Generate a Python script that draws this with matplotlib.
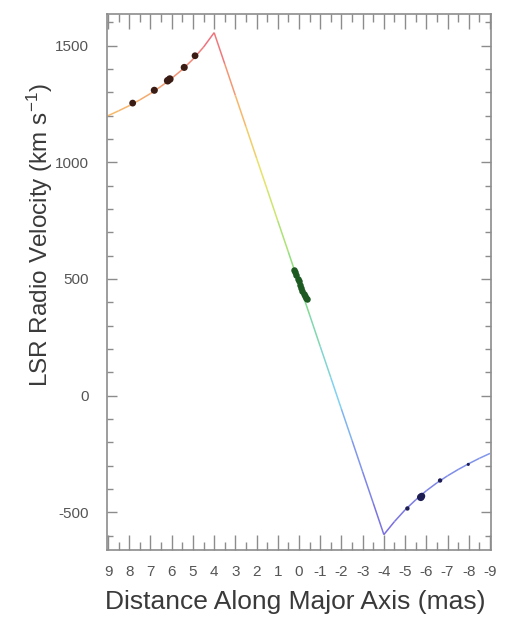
import numpy as np
import matplotlib
matplotlib.use("Agg")
import matplotlib.pyplot as plt
from matplotlib.collections import LineCollection
from matplotlib.colors import LinearSegmentedColormap, Normalize
from matplotlib import font_manager

# ---- data ----
curve_x = [9.0, 8.5, 8.0, 7.5, 7.0, 6.5, 6.0, 5.5, 5.0, 4.5, 4.0,
           3.5, 3.0, 2.5, 2.0, 1.5, 1.0, 0.5, 0.0, -0.5, -1.0, -1.5, -2.0, -2.5, -3.0, -3.5, -4.0,
           -4.5, -5.0, -5.5, -6.0, -6.5, -7.0, -7.5, -8.0, -8.5, -9.0]
curve_v = [1200, 1221, 1243, 1268, 1295, 1326, 1360, 1398, 1442, 1494, 1556,
           1422, 1287, 1153, 1018, 884, 749, 615, 480, 346, 211, 77, -58, -192, -327, -461, -596,
           -540, -490, -447, -408, -374, -344, -317, -292, -269, -248]

red_x = [7.84, 6.82, 6.19, 6.09, 5.41, 4.90]
red_v = [1254, 1309, 1350, 1357, 1407, 1457]

core_x = [0.22, 0.17, 0.12, 0.07, 0.02, -0.04, -0.10, -0.16, -0.22, -0.28, -0.34, -0.38]
core_v = [540, 528, 515, 502, 490, 475, 462, 449, 437, 426, 418, 412]

blue_x = [-5.11, -5.74, -5.79, -6.65, -7.98]
blue_v = [-484, -436, -431, -364, -295]

x_ticks = list(range(9, -10, -1))
y_ticks = [-500, 0, 500, 1000, 1500]

# ---- fonts ----
names = {f.name for f in font_manager.fontManager.ttflist}
tick_font = "Liberation Sans Narrow" if "Liberation Sans Narrow" in names else "Liberation Sans"
plt.rcParams["font.family"] = ["Liberation Sans", "DejaVu Sans"]
plt.rcParams["mathtext.fontset"] = "custom"
plt.rcParams["mathtext.rm"] = "Liberation Sans"
plt.rcParams["mathtext.it"] = "Liberation Sans"

fig = plt.figure(figsize=(5.13, 6.21), dpi=100)
ax = fig.add_axes([107 / 513, 1 - 550 / 621, 384 / 513, 536 / 621])

cmap = LinearSegmentedColormap.from_list(
    "vel",
    [(0.00, (0.42, 0.36, 0.86)),
     (0.16, (0.45, 0.55, 0.92)),
     (0.28, (0.45, 0.80, 0.95)),
     (0.50, (0.45, 0.85, 0.45)),
     (0.70, (0.88, 0.90, 0.35)),
     (0.83, (0.97, 0.72, 0.35)),
     (1.00, (0.92, 0.35, 0.45))])
norm = Normalize(vmin=-600, vmax=1560)

cx = np.array(curve_x, float)
cv = np.array(curve_v, float)
pts = np.column_stack([cx, cv]).reshape(-1, 1, 2)
segs = np.concatenate([pts[:-1], pts[1:]], axis=1)
mid_v = 0.5 * (cv[:-1] + cv[1:])
lc = LineCollection(segs, colors=cmap(norm(mid_v)), linewidths=1.1, alpha=0.9)
ax.add_collection(lc)

ax.scatter(red_x, red_v, s=[24, 26, 30, 30, 26, 24], color="#3a1c14", zorder=3, linewidths=0)
ax.scatter(core_x, core_v, s=22, color="#1d5a22", zorder=3, linewidths=0)
ax.scatter(blue_x, blue_v, s=[10, 30, 24, 10, 5], color="#1e1e55", zorder=3, linewidths=0)

ax.set_xlim(9.05, -9.05)
ax.set_ylim(-662, 1636)
ax.set_xticks(x_ticks)
ax.set_xticklabels([str(t) for t in x_ticks])
ax.set_xticks(np.arange(-8.5, 9.0, 1.0), minor=True)
ax.set_yticks(y_ticks)
ax.set_yticklabels([str(t) for t in y_ticks])
ax.set_yticks(np.arange(-600, 1700, 100), minor=True)

for s in ax.spines.values():
    s.set_color("#8c8c8c")
    s.set_linewidth(1.2)

ax.tick_params(which="both", direction="in", top=True, right=True, color="#8c8c8c", width=1.0)
ax.tick_params(axis="x", which="major", length=11, pad=11)
ax.tick_params(axis="x", which="minor", length=6)
ax.tick_params(axis="y", which="major", length=7, pad=13)
ax.tick_params(axis="y", which="minor", length=4)
for lab in ax.get_xticklabels() + ax.get_yticklabels():
    lab.set_fontfamily(tick_font)
    lab.set_fontsize(11)
    lab.set_color("#555555")

ax.set_xlabel("Distance Along Major Axis (mas)", fontsize=19, color="#3a3a3a")
ax.xaxis.set_label_coords(0.49, -0.097)
ax.xaxis.label.set_verticalalignment("center")
ax.set_ylabel("LSR Radio Velocity (km s$^{-1}$)", fontsize=17.5, color="#3a3a3a")
ax.yaxis.set_label_coords(-0.174, 0.588)
ax.yaxis.label.set_verticalalignment("center")

fig.savefig("out.png", dpi=100)
